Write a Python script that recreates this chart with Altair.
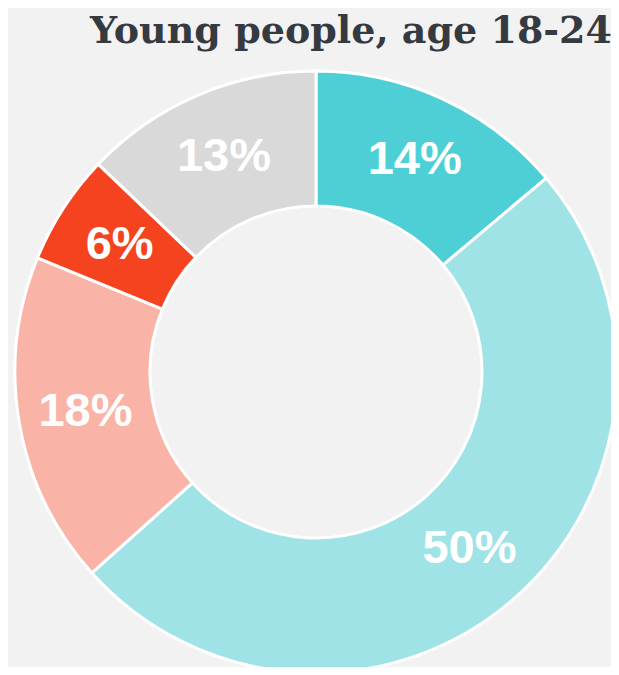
import altair as alt
import pandas as pd

labels = ["14%", "50%", "18%", "6%", "13%"]
values = [14, 50, 18, 6, 13]
colors = ["#4ecfd6", "#9fe3e7", "#fab4a7", "#f54320", "#d9d9d9"]
order = [0, 1, 2, 3, 4]
title_text = "Young people, age 18-24"

df = pd.DataFrame({"label": labels, "value": values, "color": colors, "order": order})

base = alt.Chart(df).encode(
    theta=alt.Theta("value:Q", stack=True),
    order=alt.Order("order:Q"),
    x=alt.value(308),
    y=alt.value(364),
)

arcs = base.mark_arc(innerRadius=166, outerRadius=301, stroke="white", strokeWidth=3).encode(
    color=alt.Color("color:N", scale=None)
)

texts = base.mark_text(
    radius=234, font="Liberation Sans", fontSize=47, fontWeight="bold", color="white"
).encode(text="label:N")

title = alt.Chart(pd.DataFrame({"t": [title_text]})).mark_text(
    align="right", baseline="alphabetic", font="DejaVu Serif", fontSize=38,
    fontWeight="bold", color="#343a3f"
).encode(text="t:N", x=alt.value(604), y=alt.value(35))

chart = alt.layer(arcs, texts, title).properties(
    width=603, height=659, background="#f2f2f2", padding=0, autosize="none"
).configure_view(stroke=None)

chart.save("out.html", embed_options={"renderer": "svg", "actions": False})
